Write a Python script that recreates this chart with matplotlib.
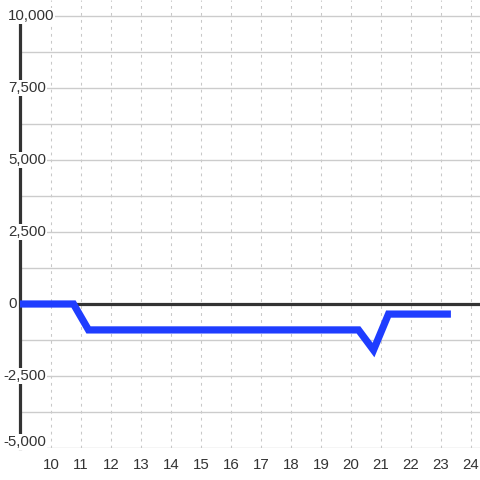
import matplotlib.pyplot as plt
from matplotlib.ticker import MultipleLocator, FixedLocator
from matplotlib.transforms import ScaledTranslation

plt.rcParams['font.family'] = ['Liberation Sans', 'DejaVu Sans']

# hours of day and value
hours = [8.9, 10.75, 11.25, 20.25, 20.75, 21.25, 23.33]
values = [0, 0, -900, -900, -1600, -350, -350]

y_ticks = [-5000, -2500, 0, 2500, 5000, 7500, 10000]
x_ticks = list(range(10, 25))

fig = plt.figure(figsize=(4.8, 4.8), dpi=100)
ax = fig.add_axes([20 / 480, 1 - 448 / 480, 460 / 480, 448 / 480])

ax.set_xlim(10 - 31 / 30, 24 + 9 / 30)
ax.set_ylim(-5000, 10000 + 16 / 28.8 * 1000)

# grid
ax.yaxis.set_major_locator(MultipleLocator(1250))
ax.xaxis.set_major_locator(FixedLocator(x_ticks))
ax.grid(axis='y', color='#cccccc', lw=1, zorder=0)
ax.grid(axis='x', color='#c8c8c8', lw=0.75, ls=(0, (2.7, 4)), zorder=0)
ax.tick_params(axis='y', left=False, labelleft=False)
ax.tick_params(axis='x', bottom=False, pad=4, labelsize=10.8, labelcolor='#333333')

for s in ['top', 'right', 'bottom']:
    ax.spines[s].set_visible(False)
ax.spines['left'].set_color('#333333')
ax.spines['left'].set_linewidth(2.3)
ax.spines['left'].set_bounds(-5000, 10000)
ax.spines['left'].set_zorder(3)

ax.axhline(0, color='#333333', lw=2.3, zorder=2)
ax.plot(hours, values, color='#1f3dff', lw=5.2, solid_joinstyle='miter',
        solid_capstyle='butt', zorder=4)

# y labels with white boxes over the spine
for v in y_ticks:
    dx = -12 / 100 if v >= 0 else -17 / 100
    dy = 6 / 100 if v == -5000 else 0
    tr = ax.get_yaxis_transform() + ScaledTranslation(dx, dy, fig.dpi_scale_trans)
    ax.text(0, v, f'{v:,}', transform=tr, ha='left', va='center',
            fontsize=10.8, color='#333333', zorder=5, clip_on=False,
            bbox=dict(facecolor='white', edgecolor='none', pad=0.5))

fig.savefig('out.png', dpi=100)
